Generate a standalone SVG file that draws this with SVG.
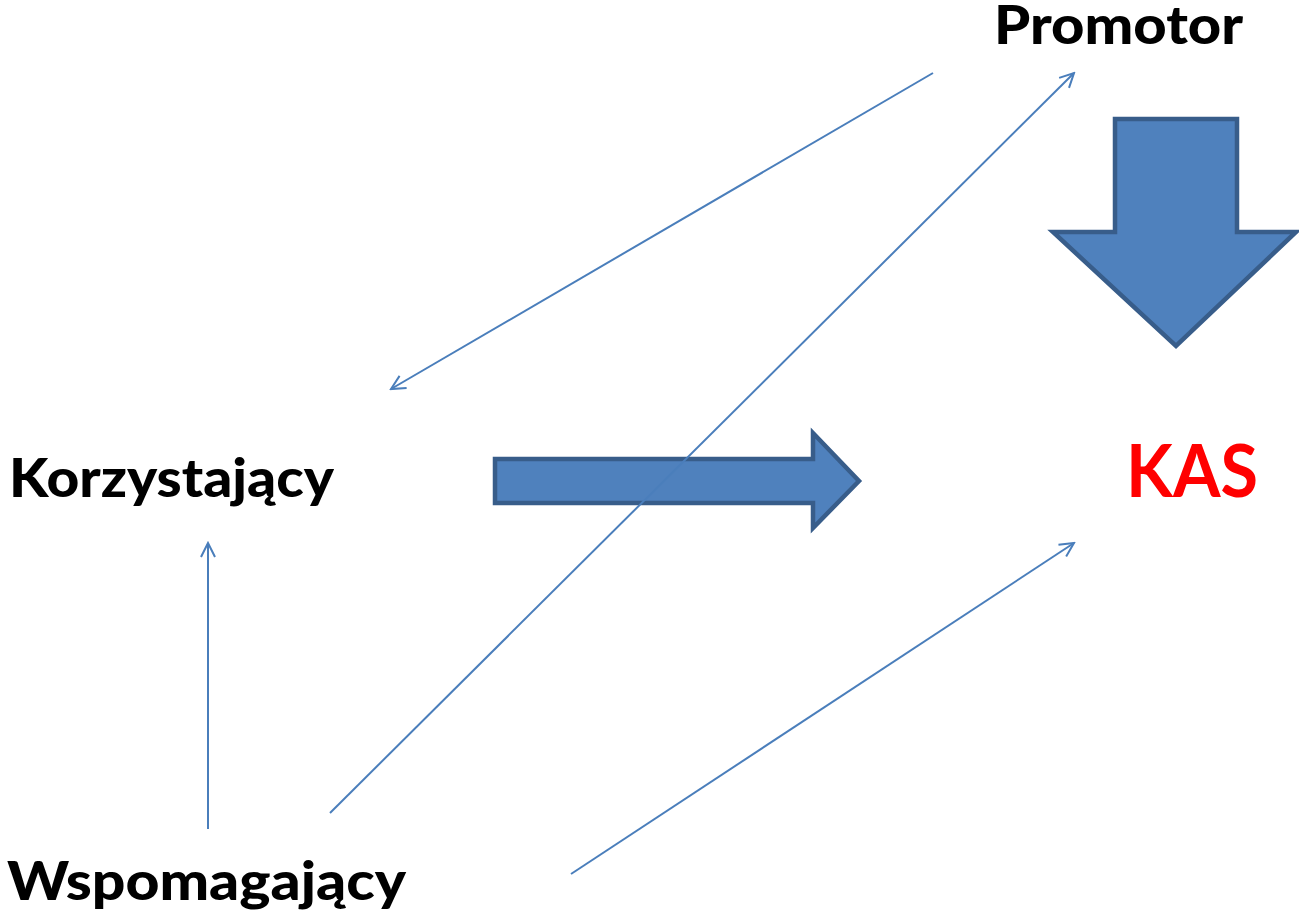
<svg xmlns="http://www.w3.org/2000/svg" width="1299" height="914" viewBox="0 0 1299 914">
<defs>
<style>
.lbl{font-family:Lato,"Open Sans","Liberation Sans",sans-serif;font-weight:900;font-size:54px;fill:#000}
.kas{fill:#FF0000;font-size:73px;font-weight:bold}
.big{fill:#4F81BD;stroke:#385D8A;stroke-width:4.5;stroke-linejoin:miter}
.con{stroke:#4A7EBB;stroke-width:2;fill:none}
</style>
<marker id="ah" viewBox="0 0 20 20" refX="18" refY="10" markerWidth="20" markerHeight="20" markerUnits="userSpaceOnUse" orient="auto">
<path d="M4,3 L18,10 L4,17" fill="none" stroke="#4A7EBB" stroke-width="2"/>
</marker>
</defs>
<rect width="1299" height="914" fill="#fff"/>
<g id="promotor"><text class="lbl" x="994" y="44" textLength="249" lengthAdjust="spacingAndGlyphs">Promotor</text></g>
<g id="korzystajacy"><text class="lbl" x="9" y="497" textLength="325" lengthAdjust="spacingAndGlyphs">Korzystający</text></g>
<g id="wspomagajacy"><text class="lbl" x="7" y="900" textLength="399" lengthAdjust="spacingAndGlyphs">Wspomagający</text></g>
<g id="kas"><text class="lbl kas" x="1126" y="497" textLength="132" lengthAdjust="spacingAndGlyphs">KAS</text></g>
<g id="arrow-down"><path class="big" d="M1115,119 L1237,119 L1237,232 L1296,232 L1176,346 L1053,232 L1115,232 Z"/></g>
<g id="arrow-right"><path class="big" d="M495,459 L813,459 L813,433 L859,481 L813,528 L813,503 L495,503 Z"/></g>
<g id="connectors">
<line class="con" x1="933" y1="73" x2="391" y2="389" marker-end="url(#ah)"/>
<line class="con" x1="330" y1="813" x2="1074" y2="73" marker-end="url(#ah)"/>
<line class="con" x1="208" y1="829" x2="208" y2="543" marker-end="url(#ah)"/>
<line class="con" x1="571" y1="874" x2="1074" y2="543" marker-end="url(#ah)"/>
</g>
</svg>
